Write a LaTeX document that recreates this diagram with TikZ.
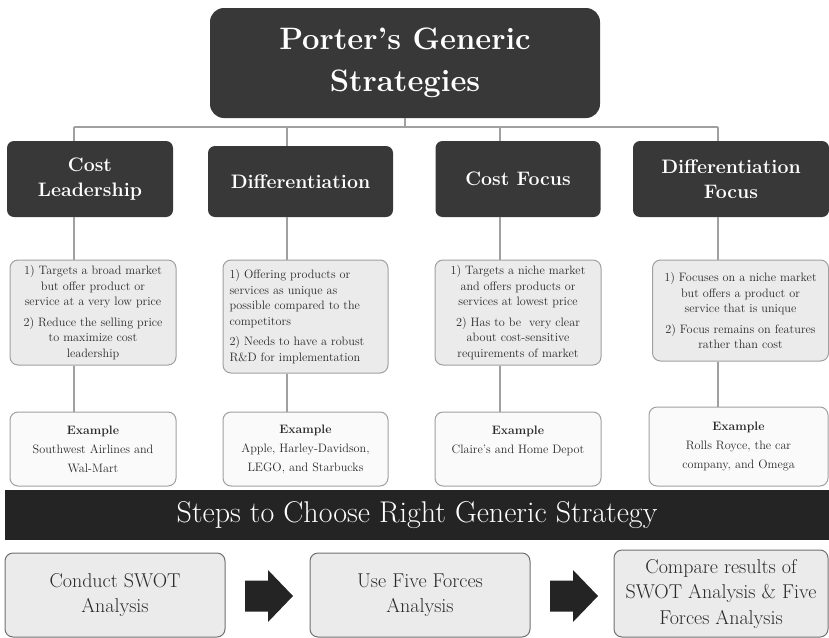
\documentclass[tikz,border=0pt]{standalone}
\usepackage{fontspec}
\usetikzlibrary{calc}
\definecolor{boxdark}{HTML}{383838}
\definecolor{banddark}{HTML}{242424}
\definecolor{descfill}{HTML}{EBEBEB}
\definecolor{exfill}{HTML}{FAFAFA}
\definecolor{edgegray}{HTML}{A0A0A0}
\definecolor{stepedge}{HTML}{707070}
\definecolor{txt}{HTML}{2A2A2A}
\begin{document}
\begin{tikzpicture}[x=1pt,y=-1pt,
  conn/.style={draw=edgegray, line width=1.3pt},
  titlebox/.style={fill=boxdark, rounded corners=14pt, text=white, align=center, inner sep=0pt,
    font=\bfseries\fontsize{31}{42}\selectfont},
  headbox/.style={fill=boxdark, rounded corners=7pt, text=white, align=center, inner sep=0pt,
    font=\bfseries\fontsize{19.5}{25}\selectfont},
  descbox/.style={fill=descfill, draw=edgegray, line width=1pt, rounded corners=8pt, inner sep=0pt,
    text=txt, font=\fontsize{12.2}{15.5}\selectfont},
  exbox/.style={fill=exfill, draw=edgegray, line width=1pt, rounded corners=8pt, inner sep=0pt,
    text=txt, align=center, font=\fontsize{12.2}{19}\selectfont},
  stepbox/.style={fill=descfill, draw=stepedge, line width=1pt, rounded corners=8pt, inner sep=0pt,
    text=txt, align=center, font=\fontsize{20}{25.5}\selectfont},
  bandbox/.style={fill=banddark, inner sep=0pt, text=white, font=\fontsize{30}{34}\selectfont},
  fatarrow/.style={fill=banddark}
]
\useasboundingbox (0,0) rectangle (829,637);

% title
\node[titlebox, minimum width=390pt, minimum height=110pt] (title) at (405,63)
  {Porter’s Generic\\Strategies};

% headers
\node[headbox, minimum width=166pt, minimum height=76pt] (h1) at (90,179) {Cost\\Leadership};
\node[headbox, minimum width=185pt, minimum height=71pt] (h2) at (300.5,181.5) {Differentiation};
\node[headbox, minimum width=165pt, minimum height=76pt] (h3) at (518,179) {Cost Focus};
\node[headbox, minimum width=196pt, minimum height=76pt] (h4) at (731,179) {Differentiation\\Focus};

% description boxes
\node[descbox, minimum width=166pt, minimum height=105pt] (d1) at (93,312.5)
  {\parbox{162pt}{\centering
   1) Targets a broad market\\but offer product or\\service at a very low price\par\vspace{5pt}
   2) Reduce the selling price\\to maximize cost\\leadership}};
\node[descbox, minimum width=165pt, minimum height=113pt] (d2) at (305.5,316.5)
  {\parbox{152pt}{\raggedright
   1) Offering products or\\services as unique as\\possible compared to the\\competitors\par\vspace{5pt}
   2) Needs to have a robust\\R\&D for implementation}};
\node[descbox, minimum width=166pt, minimum height=105pt] (d3) at (518,312.5)
  {\parbox{162pt}{\centering
   1) Targets a niche market\\and offers products or\\services at lowest price\par\vspace{5pt}
   2) Has to be\ \ very clear\\about cost-sensitive\\requirements of market}};
\node[descbox, minimum width=176pt, minimum height=101pt] (d4) at (740.5,310.5)
  {\parbox{174pt}{\centering
   1) Focuses on a niche market\\but offers a product or\\service that is unique\par\vspace{5pt}
   2) Focus remains on features\\rather than cost}};

% example boxes
\node[exbox, minimum width=166pt, minimum height=74pt] (e1) at (93,449)
  {\textbf{Example}\\Southwest Airlines and\\Wal-Mart};
\node[exbox, minimum width=165pt, minimum height=74pt] (e2) at (305.5,449)
  {\textbf{Example}\\Apple, Harley-Davidson,\\LEGO, and Starbucks};
\node[exbox, minimum width=166pt, minimum height=74pt, align=center] (e3) at (518,449)
  {\textbf{Example}\\Claire’s and Home Depot\\\phantom{X}};
\node[exbox, minimum width=179pt, minimum height=79pt] (e4) at (738.5,446.5)
  {\textbf{Example}\\Rolls Royce, the car\\company, and Omega};

% band
\node[bandbox, minimum width=824pt, minimum height=50pt] (band) at (417,515)
  {Steps to Choose Right Generic Strategy};

% steps
\node[stepbox, minimum width=220pt, minimum height=84pt] (s1) at (115,595)
  {Conduct SWOT\\Analysis};
\node[stepbox, minimum width=220pt, minimum height=84pt] (s2) at (420,595)
  {Use Five Forces\\Analysis};
\node[stepbox, minimum width=214pt, minimum height=87pt] (s3) at (721,593.5)
  {Compare results of\\SWOT Analysis \& Five\\Forces Analysis};

% connector grid
\coordinate (hb) at (405,127);
\coordinate (c1) at (74,127);
\coordinate (c2) at (287,127);
\coordinate (c3) at (500,127);
\coordinate (c4) at (718,127);
\draw[conn] (title.south) -- (title.south |- hb);
\draw[conn] (c1) -- (c4);
\foreach \c/\h/\d/\e in {c1/h1/d1/e1, c2/h2/d2/e2, c3/h3/d3/e3, c4/h4/d4/e4}{
  \draw[conn] (\c) -- (\c |- \h.north);
  \draw[conn] (\c |- \h.south) -- (\c |- \d.north);
  \draw[conn] (\c |- \d.south) -- (\c |- \e.north);
}

% fat arrows
\coordinate (a1) at (245,596);
\coordinate (a2) at (550,596);
\foreach \a in {a1,a2}{
  \fill[fatarrow] ($(\a)+(0,-15.5)$) -- ++(23,0) -- ++(0,-10.5) -- ($(\a)+(48,0)$)
    -- ($(\a)+(23,26)$) -- ++(0,-10.5) -- ($(\a)+(0,15.5)$) -- cycle;
}
\end{tikzpicture}
\end{document}
